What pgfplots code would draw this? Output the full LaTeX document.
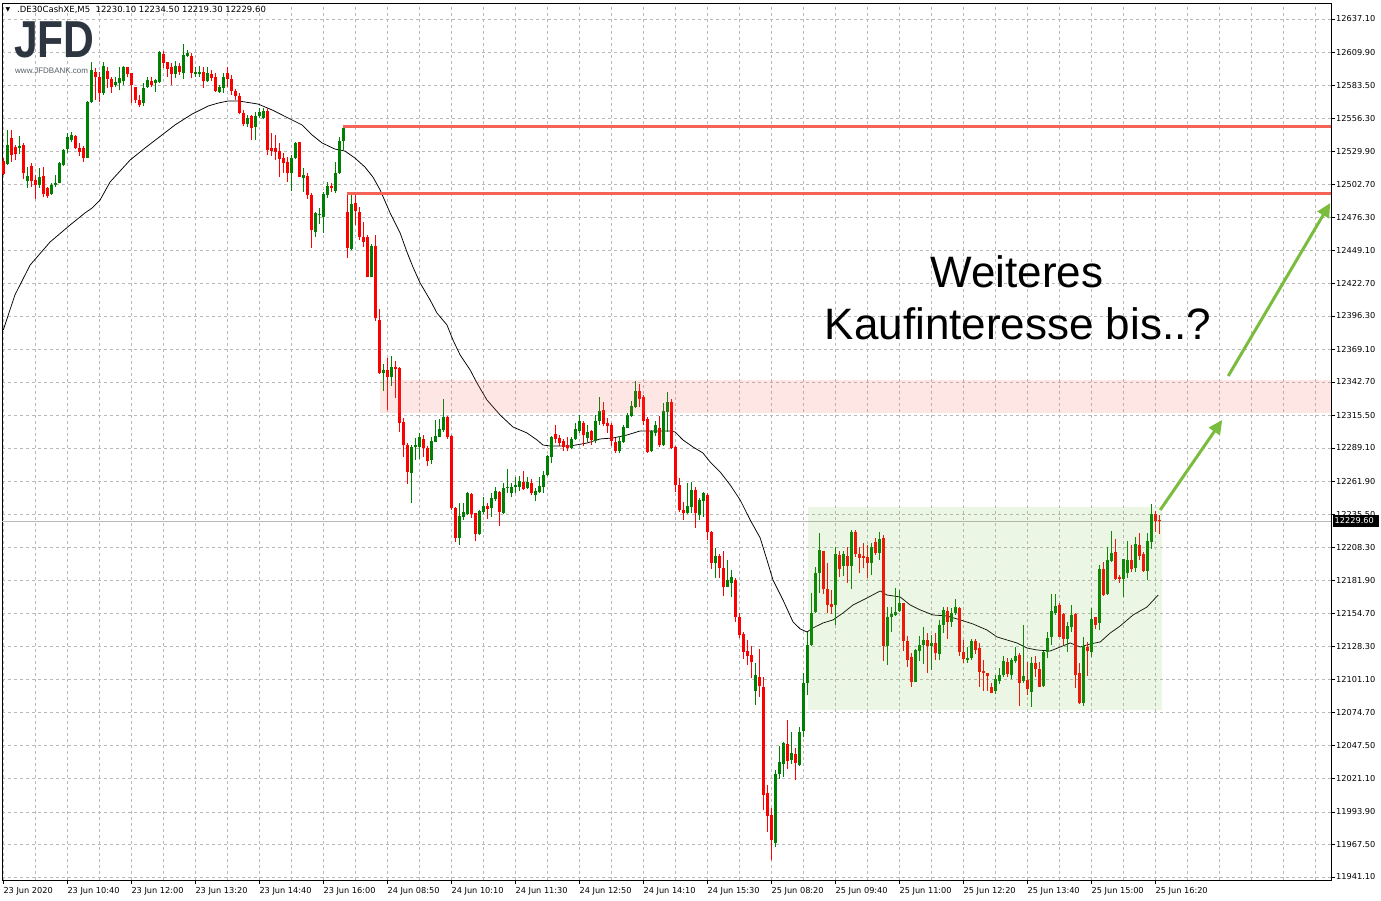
\documentclass[border=0pt]{standalone}
\usepackage{pgfplots}
\pgfplotsset{compat=1.18}
\usepackage{pgfplotstable}
\usepackage{fontspec}
\setmainfont{DejaVu Sans}
\newfontfamily\arialfont{Liberation Sans}
\usetikzlibrary{arrows.meta}
\definecolor{cgreen}{RGB}{0,128,0}
\definecolor{cred}{RGB}{255,0,0}
\definecolor{lvl}{RGB}{244,98,88}
\definecolor{agreen}{RGB}{122,188,62}
\definecolor{zpink}{RGB}{240,100,90}
\definecolor{gridc}{RGB}{185,185,185}
\definecolor{logoc}{RGB}{45,53,64}

\pgfplotstableread{
k o h l c
0 12521.9 12524.3 12510.5 12511.4
1 12519.5 12547.1 12518.7 12534.9
2 12540.6 12547.1 12521.1 12526.8
3 12533.3 12534.9 12522.7 12527.6
4 12532.4 12542.2 12527.6 12534.1
5 12534.9 12536.5 12507.3 12512.2
6 12505.7 12517.0 12500.0 12509.7
7 12517.8 12520.3 12500.8 12505.7
8 12506.5 12510.5 12491.1 12502.4
9 12502.4 12516.2 12500.0 12508.9
10 12509.7 12517.0 12492.7 12495.1
11 12500.0 12500.8 12491.9 12493.5
12 12495.1 12504.0 12494.3 12502.4
13 12502.4 12510.5 12500.8 12504.0
14 12504.0 12521.1 12504.0 12520.3
15 12518.7 12531.6 12517.8 12530.8
16 12531.6 12544.6 12528.4 12541.4
17 12538.9 12545.4 12537.3 12543.0
18 12542.2 12543.0 12531.6 12532.4
19 12532.4 12536.5 12526.0 12529.2
20 12532.4 12534.1 12521.1 12524.3
21 12524.3 12570.6 12524.3 12569.8
22 12569.8 12602.2 12568.9 12595.7
23 12594.1 12597.3 12571.4 12590.0
24 12590.0 12594.1 12569.8 12577.1
25 12577.1 12602.2 12575.4 12599.0
26 12594.9 12598.2 12581.1 12588.4
27 12588.4 12590.0 12577.1 12581.9
28 12583.5 12590.0 12581.9 12586.0
29 12585.2 12598.2 12579.5 12589.2
30 12586.8 12599.0 12583.5 12598.2
31 12598.2 12598.2 12590.0 12592.5
32 12593.3 12593.3 12568.9 12583.5
33 12581.9 12581.9 12568.9 12571.4
34 12571.4 12575.4 12565.7 12567.3
35 12568.9 12585.2 12566.5 12581.1
36 12581.9 12590.0 12581.1 12587.6
37 12586.8 12590.0 12581.9 12583.5
38 12585.2 12588.4 12577.9 12587.6
39 12586.0 12611.1 12585.2 12610.3
40 12608.7 12611.1 12597.3 12601.4
41 12602.2 12602.2 12590.0 12596.5
42 12598.2 12601.4 12583.5 12592.5
43 12592.5 12603.0 12589.2 12599.0
44 12599.0 12601.4 12591.7 12594.1
45 12593.3 12616.8 12588.4 12607.9
46 12607.1 12611.9 12606.3 12609.5
47 12607.1 12609.5 12589.2 12593.3
48 12592.5 12598.2 12590.0 12594.1
49 12592.5 12599.0 12590.0 12594.1
50 12594.1 12598.2 12581.1 12586.8
51 12586.8 12598.2 12586.0 12593.3
52 12592.5 12595.7 12586.8 12589.2
53 12590.0 12593.3 12577.9 12578.7
54 12577.9 12583.5 12577.1 12581.9
55 12581.1 12593.3 12577.1 12590.0
56 12593.3 12598.2 12581.9 12588.4
57 12588.4 12591.7 12575.4 12578.7
58 12578.7 12580.3 12571.4 12574.6
59 12574.6 12577.1 12560.0 12560.8
60 12560.8 12563.3 12550.3 12551.9
61 12551.9 12559.2 12549.5 12556.8
62 12558.4 12559.2 12538.9 12548.7
63 12549.5 12561.6 12538.9 12558.4
64 12558.4 12564.9 12556.8 12561.6
65 12556.8 12564.9 12556.0 12562.5
66 12562.5 12564.9 12526.8 12530.8
67 12532.4 12544.6 12526.0 12530.0
68 12532.4 12543.0 12522.7 12529.2
69 12530.0 12536.5 12508.9 12523.5
70 12524.3 12528.4 12512.2 12520.3
71 12521.1 12525.1 12504.9 12512.2
72 12512.2 12526.8 12497.6 12524.3
73 12524.3 12537.3 12523.5 12536.5
74 12537.3 12537.3 12508.9 12508.9
75 12508.1 12516.2 12496.7 12510.5
76 12509.7 12512.2 12491.1 12494.3
77 12494.3 12495.9 12451.3 12465.9
78 12464.3 12480.5 12460.3 12479.7
79 12478.1 12483.8 12470.8 12478.9
80 12476.5 12496.7 12463.5 12495.1
81 12494.3 12504.9 12491.9 12501.6
82 12501.6 12504.0 12496.7 12500.0
83 12497.6 12521.1 12495.9 12512.2
84 12512.2 12541.4 12511.4 12538.1
85 12538.1 12550.3 12530.8 12548.7
86 12480.5 12495.9 12443.2 12451.3
87 12450.5 12495.9 12449.7 12487.0
88 12487.8 12495.9 12470.0 12481.3
89 12480.5 12484.6 12457.8 12460.3
90 12460.3 12472.4 12452.1 12456.2
91 12460.3 12461.9 12427.8 12427.8
92 12427.8 12454.6 12427.8 12452.9
93 12452.9 12461.9 12392.1 12394.5
94 12392.9 12401.8 12349.1 12349.9
95 12349.9 12357.2 12335.3 12352.4
96 12352.4 12362.1 12319.9 12346.7
97 12346.7 12363.7 12339.4 12354.8
98 12354.8 12359.7 12329.6 12353.2
99 12354.0 12354.8 12302.1 12309.4
100 12310.2 12313.4 12281.8 12291.5
101 12291.5 12293.1 12259.9 12269.6
102 12268.8 12291.5 12244.5 12289.9
103 12289.9 12297.2 12279.3 12291.5
104 12289.9 12301.3 12280.2 12298.0
105 12296.4 12299.6 12281.8 12289.1
106 12289.1 12290.7 12274.5 12278.5
107 12279.3 12298.0 12276.1 12294.8
108 12294.0 12311.8 12294.0 12298.8
109 12298.0 12312.6 12298.0 12304.5
110 12303.7 12328.8 12302.1 12314.2
111 12314.2 12315.0 12296.4 12298.0
112 12298.8 12299.6 12238.8 12240.4
113 12240.4 12241.2 12212.8 12216.1
114 12216.1 12244.5 12210.4 12233.9
115 12233.1 12244.5 12230.7 12237.2
116 12235.5 12253.4 12234.7 12252.6
117 12251.8 12252.6 12232.3 12235.5
118 12236.3 12236.3 12213.6 12219.3
119 12219.3 12238.8 12218.5 12238.0
120 12237.2 12249.3 12235.5 12242.0
121 12242.0 12244.5 12231.5 12239.6
122 12240.4 12252.6 12233.1 12248.5
123 12247.7 12257.4 12246.1 12254.2
124 12253.4 12254.2 12225.8 12237.2
125 12236.3 12260.7 12235.5 12256.6
126 12256.6 12272.0 12252.6 12257.4
127 12252.6 12260.7 12249.3 12257.4
128 12257.4 12265.6 12252.6 12259.1
129 12257.4 12266.4 12254.2 12262.3
130 12261.5 12270.4 12255.0 12255.8
131 12256.6 12265.6 12255.8 12261.5
132 12260.7 12263.9 12250.9 12252.6
133 12250.9 12256.6 12246.1 12254.2
134 12253.4 12265.6 12252.6 12258.3
135 12257.4 12270.4 12252.6 12267.2
136 12267.2 12283.4 12266.4 12282.6
137 12281.8 12298.8 12276.9 12298.0
138 12300.4 12307.7 12293.1 12296.4
139 12297.2 12299.6 12290.7 12293.1
140 12294.8 12296.4 12286.6 12289.9
141 12291.5 12298.0 12286.6 12289.1
142 12289.1 12298.0 12288.3 12296.4
143 12296.4 12309.4 12295.6 12304.5
144 12302.9 12315.8 12301.3 12311.0
145 12309.4 12311.0 12290.7 12299.6
146 12297.2 12307.7 12294.0 12302.1
147 12302.9 12303.7 12291.5 12295.6
148 12294.8 12315.8 12293.1 12311.0
149 12311.0 12330.4 12307.7 12319.1
150 12319.9 12326.4 12306.9 12308.6
151 12309.4 12313.4 12301.3 12306.9
152 12307.7 12309.4 12290.7 12294.8
153 12294.0 12297.2 12285.0 12286.6
154 12286.6 12298.8 12285.0 12294.8
155 12294.0 12307.7 12293.1 12306.1
156 12305.3 12317.5 12305.3 12315.8
157 12315.0 12327.2 12314.2 12323.2
158 12322.3 12343.4 12321.5 12335.3
159 12335.3 12341.0 12322.3 12328.8
160 12330.4 12332.1 12307.7 12311.0
161 12312.6 12314.2 12285.0 12285.8
162 12286.6 12303.7 12285.8 12302.9
163 12301.3 12311.0 12298.8 12307.7
164 12305.3 12315.0 12289.9 12291.5
165 12291.5 12325.6 12290.7 12319.1
166 12318.3 12334.5 12302.1 12326.4
167 12326.4 12328.8 12288.3 12289.1
168 12289.9 12290.7 12253.4 12259.1
169 12259.1 12264.7 12237.2 12238.8
170 12238.8 12245.3 12230.7 12236.4
171 12236.4 12260.7 12235.5 12242.0
172 12241.2 12261.5 12236.4 12255.0
173 12255.0 12257.4 12224.2 12236.4
174 12234.7 12248.5 12230.7 12246.9
175 12246.1 12253.4 12233.1 12252.6
176 12250.9 12252.6 12214.5 12220.9
177 12220.9 12221.7 12190.9 12195.8
178 12195.8 12208.0 12183.6 12201.5
179 12201.5 12203.1 12183.6 12191.7
180 12191.7 12205.5 12169.0 12176.3
181 12176.3 12198.2 12176.3 12182.0
182 12179.6 12190.1 12168.2 12184.4
183 12182.0 12183.6 12147.9 12152.0
184 12152.0 12155.2 12135.0 12137.4
185 12138.2 12139.8 12117.9 12123.6
186 12124.4 12133.3 12113.1 12120.3
187 12121.2 12128.5 12102.5 12115.5
188 12092.0 12114.7 12080.6 12104.9
189 12103.3 12126.0 12087.1 12096.0
190 12095.2 12103.3 11995.4 12007.6
191 12009.2 12015.7 11977.6 11990.6
192 11991.4 11997.0 11954.9 11971.1
193 11968.7 12027.9 11965.4 12024.6
194 12024.6 12047.3 12020.6 12034.4
195 12032.7 12050.6 12022.2 12049.8
196 12049.0 12068.4 12028.7 12035.2
197 12036.0 12058.7 12032.7 12041.7
198 12040.9 12045.7 12019.8 12033.5
199 12031.9 12062.8 12031.1 12058.7
200 12059.5 12106.6 12054.6 12098.5
201 12098.5 12139.8 12088.7 12129.3
202 12129.3 12171.5 12128.5 12155.2
203 12156.0 12192.6 12155.2 12187.7
204 12187.7 12220.1 12171.5 12206.3
205 12205.5 12205.5 12170.6 12174.7
206 12174.7 12195.8 12155.2 12161.7
207 12162.5 12173.9 12154.4 12160.1
208 12161.7 12208.8 12145.5 12203.1
209 12202.3 12205.5 12184.4 12190.9
210 12193.4 12205.5 12185.2 12203.1
211 12201.5 12208.8 12179.6 12193.4
212 12193.4 12222.6 12174.7 12220.9
213 12220.9 12222.6 12200.7 12203.1
214 12203.1 12208.8 12187.7 12199.9
215 12201.5 12212.0 12191.7 12199.9
216 12200.7 12210.4 12183.6 12195.8
217 12195.8 12212.0 12186.1 12208.8
218 12212.8 12216.1 12202.3 12203.9
219 12203.9 12220.9 12198.2 12215.3
220 12216.1 12218.5 12116.3 12128.5
221 12128.5 12160.1 12113.1 12152.0
222 12152.0 12160.1 12139.8 12154.4
223 12153.6 12175.5 12152.8 12156.0
224 12156.9 12173.9 12156.0 12163.4
225 12163.4 12163.4 12124.4 12132.5
226 12132.5 12136.6 12111.4 12117.1
227 12119.5 12122.8 12095.2 12099.3
228 12099.3 12126.0 12099.3 12125.2
229 12124.4 12136.6 12116.3 12129.3
230 12129.3 12143.9 12113.9 12133.3
231 12133.3 12139.0 12106.6 12128.5
232 12128.5 12137.4 12109.0 12130.9
233 12130.9 12139.0 12117.1 12122.8
234 12122.0 12149.6 12117.1 12145.5
235 12145.5 12160.1 12139.0 12157.7
236 12156.9 12160.1 12134.1 12147.9
237 12147.9 12159.3 12143.9 12155.2
238 12155.2 12166.6 12153.6 12160.1
239 12159.3 12160.1 12120.3 12123.6
240 12123.6 12133.3 12114.7 12117.9
241 12117.1 12127.6 12114.7 12118.7
242 12118.7 12134.1 12117.1 12132.5
243 12132.5 12134.1 12122.0 12125.2
244 12126.8 12130.9 12095.2 12107.4
245 12108.2 12117.1 12092.0 12106.6
246 12106.6 12106.6 12092.0 12104.1
247 12095.2 12098.5 12090.3 12090.3
248 12092.0 12104.9 12089.5 12101.7
249 12100.1 12110.6 12097.6 12104.9
250 12104.9 12120.3 12103.3 12116.3
251 12115.5 12118.7 12103.3 12105.7
252 12104.9 12118.7 12101.7 12117.1
253 12116.3 12127.6 12114.7 12120.3
254 12121.2 12122.8 12079.8 12098.5
255 12100.1 12145.5 12098.5 12104.1
256 12100.9 12115.5 12088.7 12093.6
257 12091.2 12119.5 12079.0 12114.7
258 12114.7 12120.3 12103.3 12109.8
259 12109.8 12115.5 12095.2 12095.2
260 12096.0 12124.4 12095.2 12123.6
261 12123.6 12139.8 12118.7 12135.0
262 12135.8 12170.6 12129.3 12156.9
263 12155.2 12170.6 12153.6 12160.9
264 12161.7 12163.4 12135.8 12135.8
265 12154.4 12155.2 12129.3 12134.1
266 12134.1 12147.9 12123.6 12144.7
267 12143.9 12161.7 12139.8 12153.6
268 12154.4 12155.2 12094.4 12104.9
269 12106.6 12114.7 12081.4 12082.2
270 12082.2 12135.8 12079.8 12128.5
271 12127.6 12131.7 12104.1 12124.4
272 12123.6 12159.3 12119.5 12150.4
273 12152.0 12152.0 12142.3 12145.5
274 12147.1 12194.2 12141.4 12190.9
275 12190.9 12196.6 12169.0 12169.8
276 12170.6 12208.8 12169.8 12198.2
277 12197.4 12221.7 12196.6 12203.9
278 12204.7 12215.3 12182.0 12182.8
279 12184.4 12186.1 12179.6 12182.8
280 12182.8 12199.0 12168.2 12199.0
281 12187.7 12213.6 12183.6 12198.2
282 12198.2 12210.4 12188.5 12190.9
283 12191.7 12216.9 12188.5 12211.2
284 12210.4 12220.1 12198.2 12201.5
285 12203.1 12204.7 12188.5 12189.3
286 12189.3 12220.1 12182.0 12213.6
287 12212.8 12243.7 12207.2 12235.5
288 12235.5 12238.0 12221.0 12229.9
289 12230.1 12234.5 12219.3 12229.6
}\candles

\pgfplotstableread{
k p
0 12384.8
2.9 12413.2
6.7 12437.5
11.7 12456.2
16.7 12470.0
20.4 12479.7
22.2 12483.8
24.2 12490.3
26.7 12504.9
31.7 12522.7
35.4 12532.4
38.7 12540.6
42.9 12551.1
47.2 12560.0
51.2 12566.5
53.7 12568.9
56.2 12570.6
58.7 12570.6
60.4 12569.8
63.7 12568.1
67.2 12563.3
71.2 12556.8
74.7 12551.1
77.2 12543.0
79.7 12536.5
82.9 12531.6
85.4 12530.0
87.9 12524.3
90.4 12517.0
92.4 12508.9
94.2 12498.4
96.7 12479.7
99.2 12463.5
100.9 12448.1
102.4 12435.9
104.2 12422.9
106.7 12409.1
108.4 12398.6
110.9 12388.9
112.4 12376.7
114.2 12364.5
116.7 12352.4
118.4 12341.8
120.9 12328.0
124.2 12315.8
127.4 12306.1
130.9 12301.3
133.4 12295.6
134.9 12291.5
136.7 12290.7
141.7 12290.7
145.9 12293.1
149.2 12296.4
152.4 12297.2
155.9 12299.6
159.2 12302.9
162.4 12302.9
166.7 12302.9
167.9 12302.1
169.9 12295.6
172.4 12289.9
174.9 12285.0
176.7 12277.7
179.2 12269.6
181.7 12259.1
184.2 12246.9
186.7 12230.7
189.2 12216.1
190.9 12198.2
192.4 12182.0
194.9 12165.8
197.4 12148.0
199.2 12142.3
200.9 12139.8
202.4 12143.1
204.9 12147.1
207.4 12149.6
209.9 12155.2
212.4 12161.7
215.9 12167.4
219.2 12173.1
220.9 12169.8
224.2 12168.2
226.7 12161.7
229.2 12157.7
232.4 12153.6
235.9 12152.8
239.2 12149.6
242.4 12146.3
245.9 12141.4
248.4 12135.8
250.9 12133.3
253.4 12130.9
255.9 12126.8
258.4 12125.2
261.7 12124.4
266.7 12130.9
269.2 12127.6
271.7 12130.1
274.2 12131.7
276.7 12139.0
279.2 12144.7
282.4 12153.6
285.9 12160.1
288.7 12169.8
}\ma

\newcommand\tk{\fontsize{8.2}{9}\selectfont}
\pgfplotsset{candle/.style={only marks, mark size=0pt, mark options={draw=none, fill=none}, forget plot}}

\begin{document}
\begin{tikzpicture}
\path[use as bounding box] (-2pt,-21pt) rectangle (1379pt,880pt);
\begin{axis}[
  at={(0pt,0pt)}, anchor=south west,
  scale only axis, width=1329pt, height=877pt,
  xmin=-0.325, xmax=331.9, ymin=11938.6, ymax=12650.1,
  clip=false, scaled x ticks=false, scaled y ticks=false,
  axis line style={black, line width=0.8pt},
  xtick={0,16,32,48,64,80,96,112,128,144,160,176,192,208,224,240,256,272,288},
  xticklabels={23 Jun 2020,23 Jun 10:40,23 Jun 12:00,23 Jun 13:20,23 Jun 14:40,23 Jun 16:00,24 Jun 08:50,24 Jun 10:10,24 Jun 11:30,24 Jun 12:50,24 Jun 14:10,24 Jun 15:30,25 Jun 08:20,25 Jun 09:40,25 Jun 11:00,25 Jun 12:20,25 Jun 13:40,25 Jun 15:00,25 Jun 16:20},
  minor xtick={8,24,40,56,72,88,104,120,136,152,168,184,200,216,232,248,264,280,296,304,312,320,328},
  ytick={11941.1,11967.5,11993.9,12021.1,12047.5,12074.7,12101.1,12128.3,12154.7,12181.9,12208.3,12235.5,12261.9,12289.1,12315.5,12342.7,12369.1,12396.3,12422.7,12449.1,12476.3,12502.7,12529.9,12556.3,12583.5,12609.9,12637.1},
  yticklabels={11941.10,11967.50,11993.90,12021.10,12047.50,12074.70,12101.10,12128.30,12154.70,12181.90,12208.30,12235.50,12261.90,12289.10,12315.50,12342.70,12369.10,12396.30,12422.70,12449.10,12476.30,12502.70,12529.90,12556.30,12583.50,12609.90,12637.10},
  yticklabel pos=right, ytick pos=right, xtick pos=bottom,
  tick align=outside, major tick length=4pt, minor tick length=0pt,
  tick style={black, line width=0.6pt},
  xmajorgrids, xminorgrids, ymajorgrids,
  major grid style={gridc, dash pattern=on 3pt off 3pt, line width=0.6pt},
  minor grid style={gridc, dash pattern=on 3pt off 3pt, line width=0.6pt},
  xticklabel style={font=\tk, anchor=north west, inner sep=0pt, yshift=-3pt},
  yticklabel style={font=\tk, anchor=west, inner sep=0pt, xshift=1pt},
]
% current price line
\addplot[gray!55, line width=0.8pt, forget plot] coordinates {(-0.325,12229.6) (331.9,12229.6)};
% moving average
\addplot[black, line width=0.75pt, forget plot] table[x=k, y=p] {\ma};
% wicks
\addplot[candle,
  restrict expr to domain={\thisrow{c}-\thisrow{o}}{0:100000},
  error bars/.cd, y dir=plus, y explicit, error mark=none,
  error bar style={line width=1pt, draw=cgreen}]
  table[x=k, y=l, y error plus expr={\thisrow{h}-\thisrow{l}}] {\candles};
\addplot[candle,
  restrict expr to domain={\thisrow{c}-\thisrow{o}}{-100000:-0.001},
  error bars/.cd, y dir=plus, y explicit, error mark=none,
  error bar style={line width=1pt, draw=cred}]
  table[x=k, y=l, y error plus expr={\thisrow{h}-\thisrow{l}}] {\candles};
% bodies
\addplot[candle,
  restrict expr to domain={\thisrow{c}-\thisrow{o}}{0:100000},
  error bars/.cd, y dir=plus, y explicit, error mark=none,
  error bar style={line width=3pt, draw=cgreen}]
  table[x=k, y=o, y error plus expr={max(\thisrow{c}-\thisrow{o},0.8)}] {\candles};
\addplot[candle,
  restrict expr to domain={\thisrow{c}-\thisrow{o}}{-100000:-0.001},
  error bars/.cd, y dir=plus, y explicit, error mark=none,
  error bar style={line width=3pt, draw=cred}]
  table[x=k, y=c, y error plus expr={max(\thisrow{o}-\thisrow{c},0.8)}] {\candles};
% zones
\fill[zpink, fill opacity=0.16] (axis cs:94.2,12317.5) rectangle (axis cs:331.9,12344.2);
\fill[agreen, fill opacity=0.14] (axis cs:201.2,12076.5) rectangle (axis cs:289.6,12241.2);
% resistance lines
\addplot[lvl, line width=3pt, forget plot] coordinates {(85,12549.5) (331.9,12549.5)};
\addplot[lvl, line width=3pt, forget plot] coordinates {(85.8,12495.9) (331.9,12495.9)};
% arrows
\draw[agreen, line width=3pt, -{Triangle[length=14pt,width=13pt]}] (axis cs:289.2,12238.8) -- (axis cs:304.7,12311.8);
\draw[agreen, line width=3pt, -{Triangle[length=14pt,width=13pt]}] (axis cs:306.2,12347.5) -- (axis cs:331.7,12487.8);
\end{axis}
% annotation text
\node[anchor=base, inner sep=0pt, font=\arialfont\fontsize{44}{52}\selectfont] at (1015pt,592pt) {Weiteres};
\node[anchor=base, inner sep=0pt, font=\arialfont\fontsize{44}{52}\selectfont] at (1016pt,540pt) {Kaufinteresse bis..?};
% header
\node[anchor=center, inner sep=0pt, font=\fontsize{6}{7}\selectfont] at (6pt,870pt) {▼};
\node[anchor=west, inner sep=0pt, font=\fontsize{8.5}{9}\selectfont] at (15pt,870pt) {.DE30CashXE,M5\ \ 12230.10 12234.50 12219.30 12229.60};
% logo
\node[anchor=base west, inner sep=0pt, text=logoc, font=\arialfont\bfseries\fontsize{52}{58}\selectfont] at (12pt,822pt) {\scalebox{0.82}[1]{JFD}};
\node[anchor=base west, inner sep=0pt, text=logoc!80, font=\arialfont\fontsize{8}{9}\selectfont] at (13pt,806pt) {www.JFDBANK.com};
% current price tag
\fill[black] (1331pt,353pt) rectangle (1377pt,365pt);
\node[anchor=west, inner sep=0pt, text=white, font=\tk] at (1332.5pt,359pt) {12229.60};
\end{tikzpicture}
\end{document}
